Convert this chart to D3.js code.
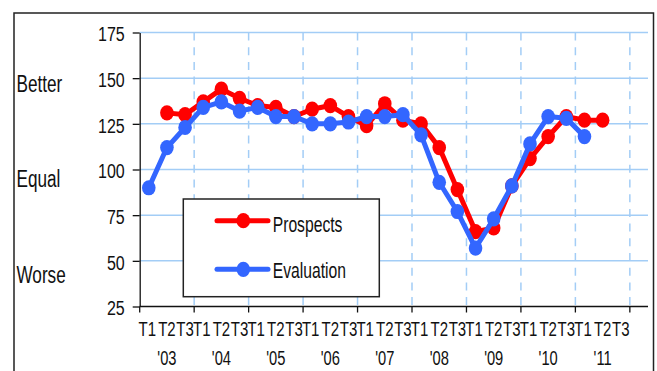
<!DOCTYPE html>
<html><head><meta charset="utf-8">
<script src="https://cdn.jsdelivr.net/npm/d3@7"></script>
<style>body{margin:0;background:#fff}svg{display:block}text{font-family:"Liberation Sans",Arial,sans-serif;fill:#111}</style>
</head><body><svg id="c" width="657" height="371"></svg>
<script>
const periods = ["T1","T2","T3"];
const years = ["'03","'04","'05","'06","'07","'08","'09","'10","'11"];
const prospects = [null,131,130,137,144,139,135,134,129,133,135,129,124,136,127,125,112,89,66,68,91,106,118,129,127,127,null,null];
const evaluation = [90,112,123,134,137,132,134,129,129,125,125,126,129,129,130,119,93,77,57,73,91,114,129,128,118,null,null,null];
const yTicks = [25,50,75,100,125,150,175];
const sideLabels = [{t:"Better",v:148},{t:"Equal",v:96},{t:"Worse",v:44}];
const seriesNames = ["Prospects","Evaluation"];

const svg = d3.select("#c");
const L=139.7, R=648, T=32.5, B=306.5;
const nSlots = prospects.length;
const x = d3.scaleBand().domain(d3.range(nSlots)).range([L,R]).padding(0);
const bw = x.bandwidth();
const y = d3.scaleLinear().domain([25,175]).range([B,T]);
const grid = "#a3cdf6";

// outer frame
svg.append("rect").attr("x",14).attr("y",13).attr("width",639.5).attr("height",380)
  .attr("fill","none").attr("stroke","#222").attr("stroke-width",1.5);

// horizontal gridlines
svg.append("g").selectAll("line").data(yTicks.filter(v=>v>25)).join("line")
  .attr("x1",L).attr("x2",R).attr("y1",d=>y(d)).attr("y2",d=>y(d))
  .attr("stroke",grid).attr("stroke-width",1.5);
// vertical dashed gridlines at year boundaries
const bounds = d3.range(3,nSlots,3);
svg.append("g").selectAll("line").data(bounds).join("line")
  .attr("x1",d=>x(d)).attr("x2",d=>x(d)).attr("y1",T).attr("y2",B)
  .attr("stroke",grid).attr("stroke-width",1.5).attr("stroke-dasharray","8,6.7");

function squeeze(sel, s, shift){
  sel.selectAll("text").each(function(d){
    const t=d3.select(this); const xx=(+t.attr("x")||0) + (shift ? shift(d) : 0);
    t.attr("x",0).attr("transform",`translate(${xx},0) scale(${s},1)`);
  });
}
// y axis
const ya = svg.append("g").attr("transform",`translate(${L},0)`)
  .call(d3.axisLeft(y).tickValues(yTicks).tickSize(7).tickPadding(8).tickSizeOuter(0));
ya.select(".domain").attr("stroke","#111").attr("stroke-width",1.3);
ya.selectAll(".tick line").attr("stroke","#111").attr("stroke-width",1.3);
ya.selectAll("text").attr("font-size",20).attr("dy","0.42em").attr("fill","#111");
squeeze(ya,0.8);

// x axis baseline + boundary ticks
svg.append("line").attr("x1",L).attr("x2",R).attr("y1",B).attr("y2",B).attr("stroke","#111").attr("stroke-width",1.3);
svg.append("g").selectAll("line").data(d3.range(0,nSlots,3)).join("line")
  .attr("x1",d=>x(d)).attr("x2",d=>x(d)).attr("y1",B).attr("y2",B+6).attr("stroke","#111").attr("stroke-width",1.3);
// period labels
const labelSlots = d3.range(years.length*3);
const xa = svg.append("g").attr("transform",`translate(0,${B})`)
  .call(d3.axisBottom(x).tickValues(labelSlots).tickFormat(i=>periods[i%3]).tickSize(0).tickPadding(15.5));
xa.select(".domain").remove();
xa.selectAll("text").attr("font-size",20).attr("fill","#111");
squeeze(xa,0.75,d=>d%3===0?-1.5:0);
// year labels
const xb = svg.append("g").attr("transform",`translate(0,${B})`)
  .call(d3.axisBottom(x).tickValues(years.map((_,k)=>k*3+1)).tickFormat(i=>years[(i-1)/3]).tickSize(0).tickPadding(43.5));
xb.select(".domain").remove();
xb.selectAll("text").attr("font-size",21).attr("fill","#111");
squeeze(xb,0.7);

// side labels
svg.append("g").selectAll("text").data(sideLabels).join("text")
  .attr("transform",(d,i)=>`translate(16.5,${[92.3,187.3,282.7][i]}) scale(0.73,1)`)
  .attr("font-size",23.5).text(d=>d.t);

// series
const colors = ["#ff0000","#3366ff"];
const data = [prospects, evaluation];
const line = d3.line().defined(d=>d.v!=null).x(d=>x(d.i)+bw/2).y(d=>y(d.v));
data.forEach((arr,k)=>{
  const pts = arr.map((v,i)=>({i,v}));
  const g = svg.append("g");
  g.append("path").attr("d",line(pts)).attr("fill","none").attr("stroke",colors[k])
    .attr("stroke-width",5).attr("stroke-linejoin","round").attr("stroke-linecap","round");
  g.selectAll("ellipse").data(pts.filter(d=>d.v!=null)).join("ellipse")
    .attr("cx",d=>x(d.i)+bw/2).attr("cy",d=>y(d.v)).attr("rx",6.8).attr("ry",7.6).attr("fill",colors[k]);
});

// legend
const lg = svg.append("g");
lg.append("rect").attr("x",183.3).attr("y",199).attr("width",196).attr("height",97.7)
  .attr("fill","#fff").attr("stroke","#222").attr("stroke-width",1.5);
const ly=[220.7,269.3], lb=[231.7,278.3];
seriesNames.forEach((n,k)=>{
  lg.append("line").attr("x1",217).attr("x2",268).attr("y1",ly[k]).attr("y2",ly[k])
    .attr("stroke",colors[k]).attr("stroke-width",5).attr("stroke-linecap","round");
  lg.append("ellipse").attr("cx",243.3).attr("cy",ly[k]).attr("rx",6.8).attr("ry",7.6).attr("fill",colors[k]);
  lg.append("text").attr("transform",`translate(272.7,${lb[k]}) scale(0.73,1)`).attr("font-size",21.5).text(n);
});
</script></body></html>
